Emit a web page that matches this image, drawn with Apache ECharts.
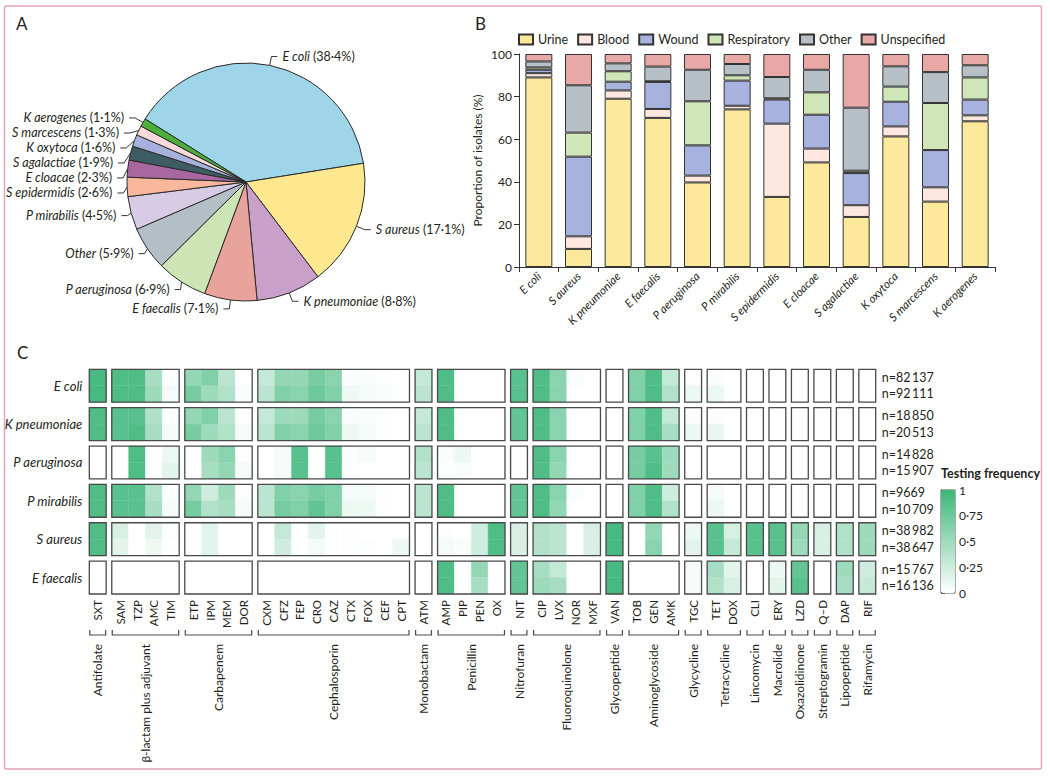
<!DOCTYPE html>
<html><head><meta charset="utf-8">
<script src="https://cdn.jsdelivr.net/npm/echarts@6/dist/echarts.min.js"></script>
<style>html,body{margin:0;padding:0;background:#fff}#c{width:1050px;height:778px}</style>
</head><body><div id="c"></div>
<script>
const FONT = "Lato,'DejaVu Sans Condensed',sans-serif";

// ---------- Panel A: pie ----------
const pieSpecies = ['E coli','S aureus','K pneumoniae','E faecalis','P aeruginosa','Other','P mirabilis','S epidermidis','E cloacae','S agalactiae','K oxytoca','S marcescens','K aerogenes'];
const piePercent = [38.4,17.1,8.8,7.1,6.9,5.9,4.5,2.6,2.3,1.9,1.6,1.3,1.1];
const pieColors = ['#9ed5e8','#fde88f','#c9a0c9','#e8a49c','#cde4b5','#b4bec6','#d7cbe6','#f9b89c','#a8689f','#3e5c63','#a6b1de','#f9dada','#4caf3a'];

// ---------- Panel B: stacked bars ----------
const barSpecies = ['E coli','S aureus','K pneumoniae','E faecalis','P aeruginosa','P mirabilis','S epidermidis','E cloacae','S agalactiae','K oxytoca','S marcescens','K aerogenes'];
const sourceNames = ['Urine','Blood','Wound','Respiratory','Other','Unspecified'];
const sourceColors = ['#fde99b','#fde7de','#a7b2de','#cfe6b9','#b7bfc7','#e8a8a6'];
const urine       = [89,8.5,79,70,39.7,74,32.9,49.1,23.5,61.3,30.7,68.4];
const blood       = [2,5.9,3.9,4.2,3.2,1.7,34.4,6.5,5.5,4.7,6.7,2.8];
const wound       = [1.6,37.4,4.1,12.7,14.2,11.8,11.3,15.9,15.1,11.6,17.5,7.4];
const respiratory = [1.1,11.3,4.9,0.3,20.7,2.5,0.6,10.5,1.1,7.1,22.1,10.4];
const otherSource = [2.8,22.2,3.7,6.9,14.8,5.3,10,10.6,29.6,9.5,14.5,5.7];
const unspecified = [3.5,14.7,4.4,5.9,7.4,4.7,10.8,7.4,25.2,5.8,8.5,5.3];
const yTicks = [0,20,40,60,80,100];

// ---------- Panel C: testing frequency ----------
const drugGroups = ['Antifolate','β-lactam plus adjuvant','Carbapenem','Cephalosporin','Monobactam','Penicillin','Nitrofuran','Fluoroquinolone','Glycopeptide','Aminoglycoside','Glycycline','Tetracycline','Lincomycin','Macrolide','Oxazolidinone','Streptogramin','Lipopeptide','Rifamycin'];
const drugs = ['SXT','SAM','TZP','AMC','TIM','ETP','IPM','MEM','DOR','CXM','CFZ','FEP','CRO','CAZ','CTX','FOX','CEF','CPT','ATM','AMP','PIP','PEN','OX','NIT','CIP','LVX','NOR','MXF','VAN','TOB','GEN','AMK','TGC','TET','DOX','CLI','ERY','LZD','Q–D','DAP','RIF'];
const drugGroupIndex = [0,1,1,1,1,2,2,2,2,3,3,3,3,3,3,3,3,3,4,5,5,5,5,6,7,7,7,7,8,9,9,9,10,11,11,12,13,14,15,16,17];
const heatSpecies = ['E coli','K pneumoniae','P aeruginosa','P mirabilis','S aureus','E faecalis'];
const nFirst  = [82137,18850,14828,9669,38982,15767];
const nSecond = [92111,20513,15907,10709,38647,16136];
const ecoliTop    = [.95, .9,.9,.45,.02, .55,.65,.35,0, .3,.55,.55,.7,.6,.03,.03,.02,0, .3, .9,0,0,0, .85, .9,.6,.03,0, 0, .65,.9,.3, .02, .03,0, 0,0,0,0,0,0];
const ecoliBottom = [.95, .9,.9,.5,.05, .7,.5,.4,.03, .35,.65,.6,.75,.65,.08,.05,.03,0, .35, .9,0,0,0, .85, .9,.6,0,0, 0, .65,.9,.4, .1, .1,0, 0,0,0,0,0,0];
const kpneuTop    = [.9, .85,.85,.4,.02, .55,.65,.35,.02, .3,.5,.5,.7,.6,.03,.03,.02,0, .3, .9,0,0,0, .8, .9,.6,0,0, 0, .65,.9,.3, .02, .02,0, 0,0,0,0,0,0];
const kpneuBottom = [.9, .85,.9,.45,.05, .7,.5,.4,.05, .35,.65,.6,.75,.65,.08,.05,.02,0, .35, .9,0,0,0, .8, .9,.6,0,0, 0, .65,.9,.45, .1, .12,0, 0,0,0,0,0,0];
const paerTop     = [0, 0,.9,0,.1, 0,.5,.6,.02, 0,.05,.85,0,.85,.02,.05,0,0, .4, .03,.1,0,0, 0, .9,.6,0,0, 0, .7,.85,.5, 0, 0,0, 0,0,0,0,0,0];
const paerBottom  = [0, 0,.9,0,.15, 0,.45,.55,.05, 0,.05,.85,0,.85,.02,0,0,0, .35, .02,.03,0,0, 0, .9,.55,0,0, 0, .7,.9,.5, 0, 0,0, 0,0,0,0,0,0];
const pmirTop     = [.9, .85,.85,.4,.02, .55,.25,.5,.02, .35,.65,.6,.7,.65,.05,.05,.02,0, .35, .9,0,0,0, .8, .9,.6,.03,0, 0, .65,.9,.25, 0, .05,0, 0,0,0,0,0,0];
const pmirBottom  = [.9, .85,.85,.45,.05, .7,.4,.45,.05, .35,.7,.65,.8,.65,.1,.08,.02,0, .35, .9,0,0,0, .8, .9,.55,0,0, 0, .65,.9,.4, 0, .1,0, 0,0,0,0,0,0];
const saurTop     = [.9, .2,0,.15,.02, 0,.15,0,0, 0,.3,0,.15,0,.02,0,0,0, 0, .02,0,.25,.9, .2, .4,.35,0,.2, .95, 0,.55,0, .1, .85,.2, .85, .85, .55, .2, .4, .5];
const saurBottom  = [.9, .15,0,.08,0, 0,.15,0,0, 0,.25,0,.05,0,.02,.02,0,.08, 0, .05,.03,.25,.9, .2, .4,.35,0,.2, .95, 0,.6,0, .15, .85,.3, .85, .85, .5, .2, .4, .5];
const efaeTop     = [0, 0,0,0,0, 0,0,0,0, 0,0,0,0,0,0,0,0,0, 0, .9,0,.55,0, .8, .45,.3,0,0, .95, 0,0,0, .05, .45,.15, 0, .1, .8, 0, .5, .25];
const efaeBottom  = [0, 0,0,0,0, 0,0,0,0, 0,0,0,0,0,0,0,0,0, 0, .9,0,.45,0, .8, .5,.45,0,0, .95, 0,0,0, .05, .4,.2, 0, .15, .85, 0, .45, .3];
const legendTicks = [0,0.25,0.5,0.75,1];

// ---------- helpers ----------
const dot = v => String(v).replace('.', '·');
const fmtN = n => { const s = String(n); return s.length > 4 ? s.slice(0, s.length-3) + '\u2009' + s.slice(-3) : s; };
const heatRows = [[ecoliTop,ecoliBottom],[kpneuTop,kpneuBottom],[paerTop,paerBottom],[pmirTop,pmirBottom],[saurTop,saurBottom],[efaeTop,efaeBottom]];
// axis units: each drug 3 units wide, 1 unit gap between classes; each sub-row 3 units high, 1 unit gap between species
const colStart = i => i*3 + drugGroupIndex[i];
const nUnitsX = drugs.length*3 + drugGroups.length - 1;
const nUnitsY = heatSpecies.length*7 - 1;

const cellData = [];
heatRows.forEach((pair, s) => pair.forEach((vals, r) => vals.forEach((v, i) => cellData.push([colStart(i), s*7 + r*3, v]))));
const groupSpan = drugGroups.map((g, gi) => {
  const idx = drugGroupIndex.map((d, i) => d === gi ? i : -1).filter(i => i >= 0);
  return [colStart(idx[0]), colStart(idx[idx.length-1]) + 3];
});
const boxData = [];
heatSpecies.forEach((sp, s) => groupSpan.forEach(sg => boxData.push([sg[0], s*7, sg[1], s*7+6])));
const drugLabelData = drugs.map((d, i) => [colStart(i) + 1.5, nUnitsY]);
const groupData = groupSpan.map(sg => [sg[0], nUnitsY, sg[1]]);
const speciesLabelData = heatSpecies.map((sp, s) => [0, s*7 + 3]);
const nLabelData = [];
heatSpecies.forEach((sp, s) => { nLabelData.push([nUnitsX, s*7 + 1.5]); nLabelData.push([nUnitsX, s*7 + 4.5]); });
const nLabelText = [];
heatSpecies.forEach((sp, s) => { nLabelText.push('n=' + fmtN(nFirst[s])); nLabelText.push('n=' + fmtN(nSecond[s])); });

const barSeriesData = [urine, blood, wound, respiratory, otherSource, unspecified];

const chart = echarts.init(document.getElementById('c'), null, {renderer: 'svg'});
const txt = '#231f20';

const option = {
  animation: false,
  textStyle: {fontFamily: FONT, color: txt},
  graphic: [
    {type: 'rect', silent: true, shape: {x: 4.5, y: 6, width: 1037, height: 763, r: 2}, style: {fill: 'none', stroke: '#e3a4bc', lineWidth: 1.5}},
    {type: 'text', left: 16, top: 15, style: {text: 'A', fontSize: 17, fontFamily: FONT, fill: txt}},
    {type: 'text', left: 475, top: 15, style: {text: 'B', fontSize: 17, fontFamily: FONT, fill: txt}},
    {type: 'text', left: 17, top: 344, style: {text: 'C', fontSize: 17, fontFamily: FONT, fill: txt}},
    {type: 'text', left: 941, top: 467, style: {text: 'Testing frequency', fontSize: 12.5, fontWeight: 'bold', fontFamily: FONT, fill: txt}}
  ],
  legend: {
    data: sourceNames, left: 518, top: 33, itemWidth: 14, itemHeight: 10, itemGap: 9,
    icon: 'rect', textStyle: {fontSize: 12.5, fontFamily: FONT, color: txt}, padding: 0
  },
  grid: [
    {left: 519, top: 54, width: 476, height: 213, outerBoundsMode: 'none'},
    {left: 89.3, top: 369.3, width: 786.4, height: 224.7, outerBoundsMode: 'none'},
    {left: 941, top: 490, width: 14, height: 103, show: true, borderColor: '#555', borderWidth: 1, outerBoundsMode: 'none'}
  ],
  xAxis: [
    {gridIndex: 0, type: 'category', data: barSpecies,
     axisLine: {lineStyle: {color: '#333', width: 1}},
     axisTick: {show: true, alignWithLabel: false, length: 5, lineStyle: {color: '#333'}},
     axisLabel: {interval: 0, rotate: 45, margin: 7, fontSize: 11.5, fontStyle: 'italic', color: txt, fontFamily: FONT}},
    {gridIndex: 1, type: 'value', min: 0, max: nUnitsX, show: false},
    {gridIndex: 2, type: 'value', min: 0, max: 1, show: false}
  ],
  yAxis: [
    {gridIndex: 0, type: 'value', min: yTicks[0], max: yTicks[yTicks.length-1], interval: 20,
     name: 'Proportion of isolates (%)', nameLocation: 'middle', nameGap: 36, nameRotate: 90,
     nameTextStyle: {fontSize: 12, color: txt, fontFamily: FONT},
     axisLine: {show: true, lineStyle: {color: '#333'}},
     axisTick: {show: true, length: 5, lineStyle: {color: '#333'}},
     splitLine: {show: false},
     axisLabel: {fontSize: 12, margin: 7, color: txt, fontFamily: FONT}},
    {gridIndex: 1, type: 'value', min: 0, max: nUnitsY, inverse: true, show: false},
    {gridIndex: 2, type: 'value', min: legendTicks[0], max: legendTicks[legendTicks.length-1], interval: 0.25, position: 'right',
     axisLine: {show: true, lineStyle: {color: '#555'}},
     axisTick: {show: true, length: 4, lineStyle: {color: '#555'}},
     splitLine: {show: false},
     axisLabel: {fontSize: 12, margin: 4, color: txt, fontFamily: FONT, formatter: v => dot(v)}}
  ],
  visualMap: {
    type: 'continuous', min: 0, max: 1, dimension: 2, seriesIndex: 7,
    inRange: {color: ['#ffffff', '#3cb679']},
    left: 941, top: 490, itemWidth: 14, itemHeight: 103, padding: 0, calculable: false,
    orient: 'vertical', show: true
  },
  series: [
    {type: 'pie', center: [246, 182], radius: 119, startAngle: 148, clockwise: true,
     data: pieSpecies.map((n, i) => ({name: n, value: piePercent[i], itemStyle: {color: pieColors[i]}})),
     itemStyle: {borderColor: '#2a2a2a', borderWidth: 1},
     label: {show: true, position: 'outside', color: txt, fontSize: 12.5, fontFamily: FONT, overflow: 'none',
       formatter: p => `{i|${p.name}} (${p.value.toFixed(1).replace('.', '·')}%)`,
       rich: {i: {fontStyle: 'italic', fontSize: 12.5, fontFamily: FONT, color: txt}}},
     labelLine: {show: true, length: 9, length2: 6, lineStyle: {color: '#333', width: 1}},
     avoidLabelOverlap: true, silent: true},
    ...sourceNames.map((n, k) => ({
      type: 'bar', name: n, stack: 'src', xAxisIndex: 0, yAxisIndex: 0, barWidth: 27,
      data: barSeriesData[k], itemStyle: {color: sourceColors[k], borderColor: '#333', borderWidth: 1}, silent: true
    })),
    // 7: heat cells
    {type: 'custom', xAxisIndex: 1, yAxisIndex: 1, data: cellData, encode: {x: 0, y: 1}, clip: false, silent: true, z: 2,
     renderItem: (p, api) => {
       const a = api.coord([api.value(0), api.value(1)]);
       const b = api.coord([api.value(0) + 3, api.value(1) + 3]);
       const c = api.visual('color');
       return {type: 'rect', shape: {x: a[0], y: a[1], width: b[0]-a[0], height: b[1]-a[1]}, style: {fill: c, stroke: c, lineWidth: 0.4}};
     }},
    // 8: class boxes
    {type: 'custom', xAxisIndex: 1, yAxisIndex: 1, data: boxData, encode: {x: [0, 2], y: [1, 3]}, clip: false, silent: true, z: 3,
     renderItem: (p, api) => {
       const a = api.coord([api.value(0), api.value(1)]);
       const b = api.coord([api.value(2), api.value(3)]);
       return {type: 'rect', shape: {x: a[0], y: a[1], width: b[0]-a[0], height: b[1]-a[1]}, style: {fill: 'none', stroke: '#4a4a4a', lineWidth: 1.3}};
     }},
    // 9: drug labels
    {type: 'custom', xAxisIndex: 1, yAxisIndex: 1, data: drugLabelData, encode: {x: 0, y: 1}, clip: false, silent: true,
     renderItem: (p, api) => {
       const a = api.coord([api.value(0), api.value(1)]);
       return {type: 'text', x: a[0], y: a[1] + 6, rotation: Math.PI/2,
         style: {text: drugs[p.dataIndex], align: 'right', verticalAlign: 'middle', fontSize: 11.5, fontFamily: FONT, fill: txt}};
     }},
    // 10: class brackets and names
    {type: 'custom', xAxisIndex: 1, yAxisIndex: 1, data: groupData, encode: {x: [0, 2], y: 1}, clip: false, silent: true,
     renderItem: (p, api) => {
       const a = api.coord([api.value(0), api.value(1)]);
       const b = api.coord([api.value(2), api.value(1)]);
       const yb = a[1] + 41;
       return {type: 'group', children: [
         {type: 'polyline', shape: {points: [[a[0]+0.5, yb-5], [a[0]+0.5, yb], [b[0]-0.5, yb], [b[0]-0.5, yb-5]]}, style: {fill: 'none', stroke: '#4a4a4a', lineWidth: 1.2}},
         {type: 'text', x: (a[0]+b[0])/2, y: yb + 9, rotation: Math.PI/2,
          style: {text: drugGroups[p.dataIndex], align: 'right', verticalAlign: 'middle', fontSize: 12, fontFamily: FONT, fill: txt}}
       ]};
     }},
    // 11: species labels
    {type: 'custom', xAxisIndex: 1, yAxisIndex: 1, data: speciesLabelData, encode: {x: 0, y: 1}, clip: false, silent: true,
     renderItem: (p, api) => {
       const a = api.coord([api.value(0), api.value(1)]);
       return {type: 'text', x: a[0] - 7, y: a[1],
         style: {text: heatSpecies[p.dataIndex], align: 'right', verticalAlign: 'middle', fontSize: 13, fontStyle: 'italic', fontFamily: FONT, fill: txt}};
     }},
    // 12: n labels
    {type: 'custom', xAxisIndex: 1, yAxisIndex: 1, data: nLabelData, encode: {x: 0, y: 1}, clip: false, silent: true,
     renderItem: (p, api) => {
       const a = api.coord([api.value(0), api.value(1)]);
       return {type: 'text', x: a[0] + 6, y: a[1],
         style: {text: nLabelText[p.dataIndex], align: 'left', verticalAlign: 'middle', fontSize: 12.5, fontFamily: FONT, fill: txt}};
     }},
    // 13: colour bar axis holder
    {type: 'line', xAxisIndex: 2, yAxisIndex: 2, data: [], silent: true}
  ]
};
chart.setOption(option);
</script>
</body></html>
